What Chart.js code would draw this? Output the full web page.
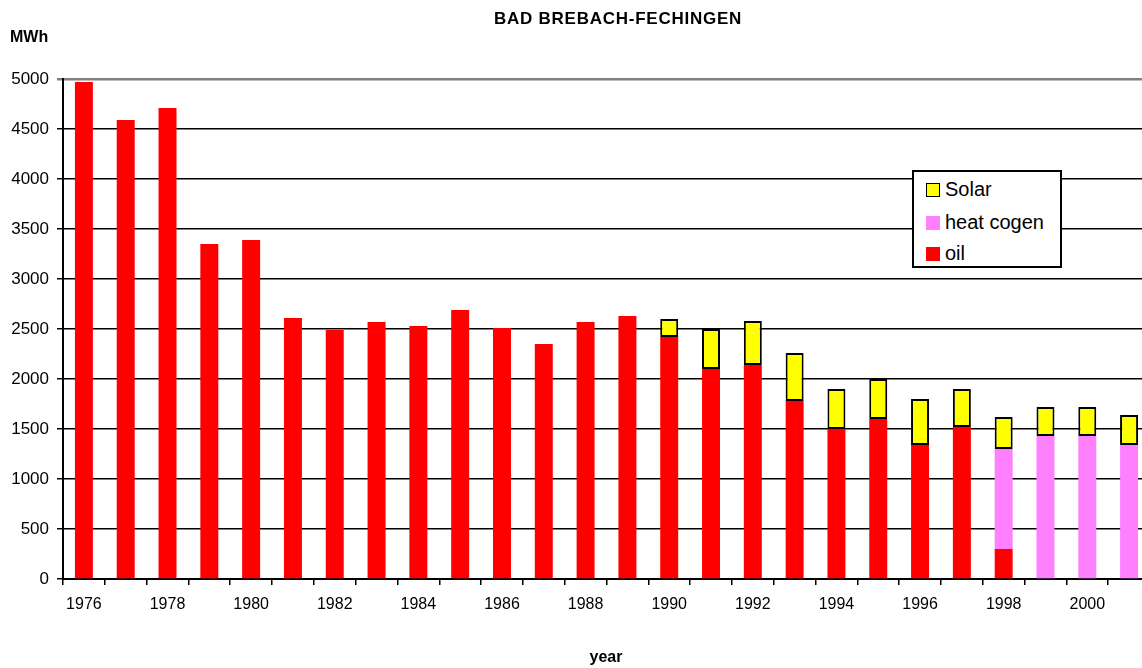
<!DOCTYPE html>
<html>
<head>
<meta charset="utf-8">
<script src="https://cdn.jsdelivr.net/npm/chart.js@4.4.0/dist/chart.umd.min.js"></script>
<style>
  html, body { margin: 0; padding: 0; background: #fff; overflow: hidden; }
  #wrap { position: relative; width: 1150px; height: 668px; }
  #legend { position: absolute; left: 912px; top: 170px; width: 150px; height: 98px;
            box-sizing: border-box; border: 2px solid #000; background: #fff;
            font-family: "Liberation Sans", Arial, sans-serif; font-size: 20px; color: #000; }
  .item { position: absolute; left: 12px; height: 24px; line-height: 24px; }
  .sw { position: absolute; left: 0; top: 5px; width: 14px; height: 14px; box-sizing: border-box; }
  .lbl { position: absolute; left: 19px; top: -1px; white-space: nowrap; }
</style>
</head>
<body>
<div id="wrap">
  <canvas id="c"></canvas>
  <div id="legend"></div>
</div>
<script>
const years = ["1976","1977","1978","1979","1980","1981","1982","1983","1984","1985","1986","1987","1988","1989","1990","1991","1992","1993","1994","1995","1996","1997","1998","1999","2000","2001"];
const oil = [4970,4590,4710,3350,3390,2610,2490,2570,2530,2690,2510,2350,2570,2630,2420,2100,2140,1780,1500,1600,1340,1520,300,0,0,0];
const heatCogen = [null,null,null,null,null,null,null,null,null,null,null,null,null,null,null,null,null,null,null,null,null,null,1000,1430,1430,1340];
const solar = [null,null,null,null,null,null,null,null,null,null,null,null,null,null,180,400,440,480,400,400,460,380,320,290,290,300];
const yTicks = [0,500,1000,1500,2000,2500,3000,3500,4000,4500,5000];
const chartTitle = "BAD BREBACH-FECHINGEN";
const yTitle = "MWh";
const xTitle = "year";

const FONT = '"Liberation Sans", Arial, sans-serif';

const titles = {
  id: 'titles',
  afterDraw(chart) {
    const ctx = chart.ctx;
    ctx.save();
    ctx.fillStyle = '#000';
    ctx.textBaseline = 'alphabetic';
    ctx.font = 'bold 17px ' + FONT;
    ctx.textAlign = 'center';
    try { ctx.letterSpacing = '0.75px'; } catch (e) {}
    ctx.fillText(chartTitle, 618, 24);
    try { ctx.letterSpacing = '0px'; } catch (e) {}
    ctx.font = 'bold 16px ' + FONT;
    ctx.textAlign = 'left';
    ctx.fillText(yTitle, 10, 42);
    ctx.textAlign = 'center';
    ctx.fillText(xTitle, 606, 662);
    ctx.restore();
  }
};

const datasets = [
  { label: 'oil', data: oil, backgroundColor: '#ff0000', borderWidth: 0 },
  { label: 'heat cogen', data: heatCogen, backgroundColor: '#ff80ff', borderWidth: 0 },
  { label: 'Solar', data: solar, backgroundColor: '#ffff00', borderColor: '#000', borderWidth: 2, borderSkipped: false }
];

const chart = new Chart(document.getElementById('c'), {
  type: 'bar',
  data: { labels: years, datasets: datasets },
  options: {
    responsive: true,
    maintainAspectRatio: false,
    animation: false,
    layout: { padding: { top: 79, left: 0, right: 0, bottom: 0 } },
    datasets: { bar: { barPercentage: 0.43, categoryPercentage: 1.0 } },
    plugins: { legend: { display: false }, tooltip: { enabled: false }, title: { display: false } },
    scales: {
      x: {
        stacked: true,
        offset: true,
        grid: { display: true, drawOnChartArea: false, drawTicks: true, tickLength: 6, color: '#000', lineWidth: 1.5, offset: true },
        border: { display: true, color: '#000', width: 2 },
        ticks: {
          autoSkip: false, maxRotation: 0, minRotation: 0, padding: 10, color: '#000',
          font: { family: FONT, size: 16 },
          callback: function(v, i) { return i % 2 === 0 ? years[i] : ''; }
        },
        afterFit(scale) { scale.height = 89; }
      },
      y: {
        stacked: true,
        min: 0, max: 5000,
        afterBuildTicks(scale) { scale.ticks = yTicks.map(v => ({ value: v })); },
        grid: {
          drawTicks: true, tickLength: 6,
          color: c => (c.tick && c.tick.value === 5000) ? '#808080' : '#000',
          lineWidth: c => (c.tick && c.tick.value === 5000) ? 2.5 : 1.5
        },
        border: { display: true, color: '#000', width: 2 },
        ticks: { padding: 8, color: '#000', font: { family: FONT, size: 17 },
                 callback: v => String(v) },
        afterFit(scale) { scale.width = 63; }
      }
    }
  },
  plugins: [titles]
});

// HTML legend built from the datasets (reverse order)
const legend = document.getElementById('legend');
const order = datasets.slice().reverse();
const tops = [6, 39, 70];
order.forEach((ds, i) => {
  const it = document.createElement('div');
  it.className = 'item';
  it.style.top = tops[i] + 'px';
  const sw = document.createElement('div');
  sw.className = 'sw';
  sw.style.background = ds.backgroundColor;
  if (ds.borderWidth) sw.style.border = '1.5px solid #000';
  const lb = document.createElement('span');
  lb.className = 'lbl';
  lb.textContent = ds.label;
  it.appendChild(sw); it.appendChild(lb);
  legend.appendChild(it);
});
</script>
</body>
</html>
